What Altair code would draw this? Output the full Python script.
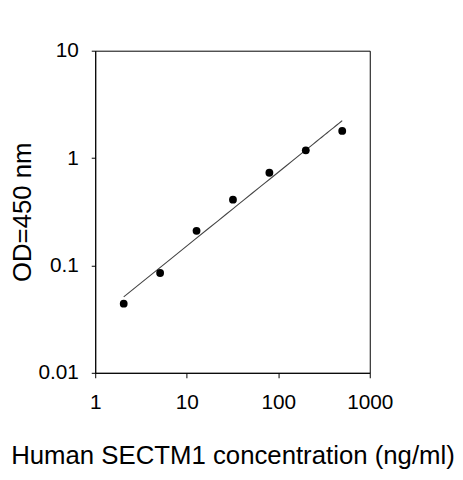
import altair as alt
import pandas as pd

# Standard curve data
conc = [2.048, 5.12, 12.8, 32, 80, 200, 500]
od = [0.044, 0.085, 0.21, 0.41, 0.73, 1.18, 1.79]

x_ticks = [1, 10, 100, 1000]
y_ticks = [0.01, 0.1, 1, 10]

df = pd.DataFrame({"conc": conc, "od": od})

FONT = "Liberation Sans"

x_enc = alt.X(
    "conc:Q",
    scale=alt.Scale(type="log", domain=[1, 1000]),
    axis=alt.Axis(
        values=x_ticks, format="~g", title="Human SECTM1 concentration (ng/ml)",
        grid=False, domainColor="black", tickColor="black", tickSize=5,
        labelFontSize=21, labelPadding=14, labelColor="black", labelFont=FONT,
        titleFontSize=26, titleFont=FONT, titleFontWeight="normal", titleColor="black",
        titleBaseline="alphabetic", titleY=92, labelFlush=False,
    ),
)
y_enc = alt.Y(
    "od:Q",
    scale=alt.Scale(type="log", domain=[0.01, 10]),
    axis=alt.Axis(
        values=y_ticks, format="~g", title="OD=450 nm",
        grid=False, domainColor="black", tickColor="black", tickSize=4,
        labelFontSize=21, labelPadding=13, labelColor="black", labelFont=FONT,
        titleFontSize=26, titleFont=FONT, titleFontWeight="normal", titleColor="black",
        titleBaseline="alphabetic", titleX=-65, labelFlush=False,
    ),
)

base = alt.Chart(df).encode(x=x_enc, y=y_enc)

points = base.mark_circle(size=62, color="black", opacity=1)

fit = (
    base.transform_regression("conc", "od", method="pow")
    .mark_line(color="#444444", strokeWidth=1.1)
)

chart = (
    alt.layer(fit, points)
    .properties(
        width=277,
        height=325,
        autosize="none",
        padding={"left": 88, "top": 41, "right": 86, "bottom": 98},
        background="white",
    )
    .configure_view(stroke="black", strokeWidth=1)
)

chart.save("out.html", embed_options={"renderer": "svg", "actions": False})
